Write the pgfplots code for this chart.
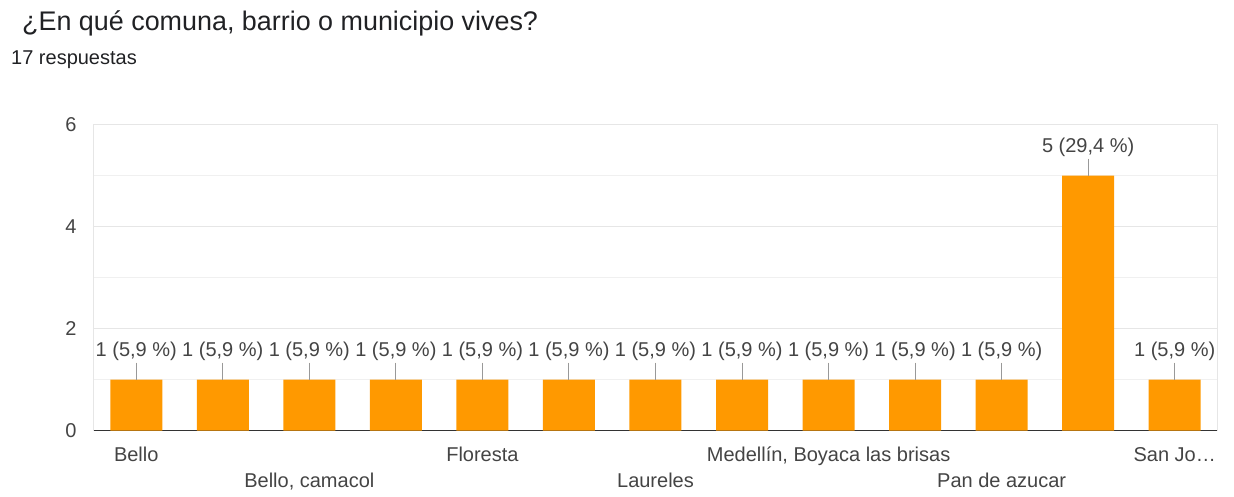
\documentclass[border=0pt]{standalone}
\usepackage{fontspec}
\setmainfont{Liberation Sans}
\usepackage{pgfplots}
\pgfplotsset{compat=1.18}
\definecolor{barc}{HTML}{FF9900}
\definecolor{titc}{HTML}{202124}
\definecolor{labc}{HTML}{444444}
\definecolor{gridmaj}{HTML}{E6E6E6}
\definecolor{gridmin}{HTML}{F0F0F0}
\definecolor{basec}{HTML}{333333}
\definecolor{leadc}{HTML}{999999}
\newcommand{\lab}{\fontsize{20}{24}\selectfont}
\begin{document}
\begin{tikzpicture}[x=1pt,y=1pt]
\path[use as bounding box] (0,0) rectangle (1234,496);
\node[anchor=base west, inner sep=0pt, text=titc, font=\fontsize{26.9}{30}\selectfont] at (22,465) {¿En qué comuna, barrio o municipio vives?};
\node[anchor=base west, inner sep=0pt, text=titc, font=\lab] at (11,431) {17 respuestas};
\begin{axis}[
  at={(93pt,65.5pt)}, anchor=south west,
  scale only axis, width=1125pt, height=306pt,
  xmin=-0.5, xmax=12.5, ymin=0, ymax=6,
  ybar, bar width=52pt,
  axis x line*=bottom, axis y line*=box,
  x axis line style={draw=basec, line width=1.3pt},
  y axis line style={draw=gridmaj, line width=1pt},
  ytick={0,2,4,6}, minor ytick={1,3,5},
  ymajorgrids, yminorgrids,
  major grid style={draw=gridmaj, line width=1.2pt},
  minor grid style={draw=gridmin, line width=1.2pt},
  major tick length=0pt, minor tick length=0pt,
  /pgf/number format/assume math mode=true,
  tick label style={font=\lab, text=labc},
  yticklabel style={anchor=east, xshift=-13pt},
  xtick={0,4,8,12},
  xticklabels={Bello, Floresta, {Medellín, Boyaca las brisas}, San Jo…},
  xticklabel style={anchor=base, yshift=-31pt},
  extra x ticks={2,6,10},
  extra x tick labels={{Bello, camacol}, Laureles, {Pan de azucar}},
  extra x tick style={xticklabel style={yshift=-26pt}},
  nodes near coords, point meta=explicit symbolic,
  every node near coord/.append style={font=\lab, text=labc, anchor=base, yshift=23pt},
  clip=false,
]
\addplot[fill=barc, draw=none, error bars/.cd, y dir=plus, y fixed=0.333, error mark=none, error bar style={draw=leadc, line width=1pt}]
coordinates {
(0,1) [1 (5,9 \%)]
(1,1) [1 (5,9 \%)]
(2,1) [1 (5,9 \%)]
(3,1) [1 (5,9 \%)]
(4,1) [1 (5,9 \%)]
(5,1) [1 (5,9 \%)]
(6,1) [1 (5,9 \%)]
(7,1) [1 (5,9 \%)]
(8,1) [1 (5,9 \%)]
(9,1) [1 (5,9 \%)]
(10,1) [1 (5,9 \%)]
(11,5) [5 (29,4 \%)]
(12,1) [1 (5,9 \%)]
};
\end{axis}
\end{tikzpicture}
\end{document}
